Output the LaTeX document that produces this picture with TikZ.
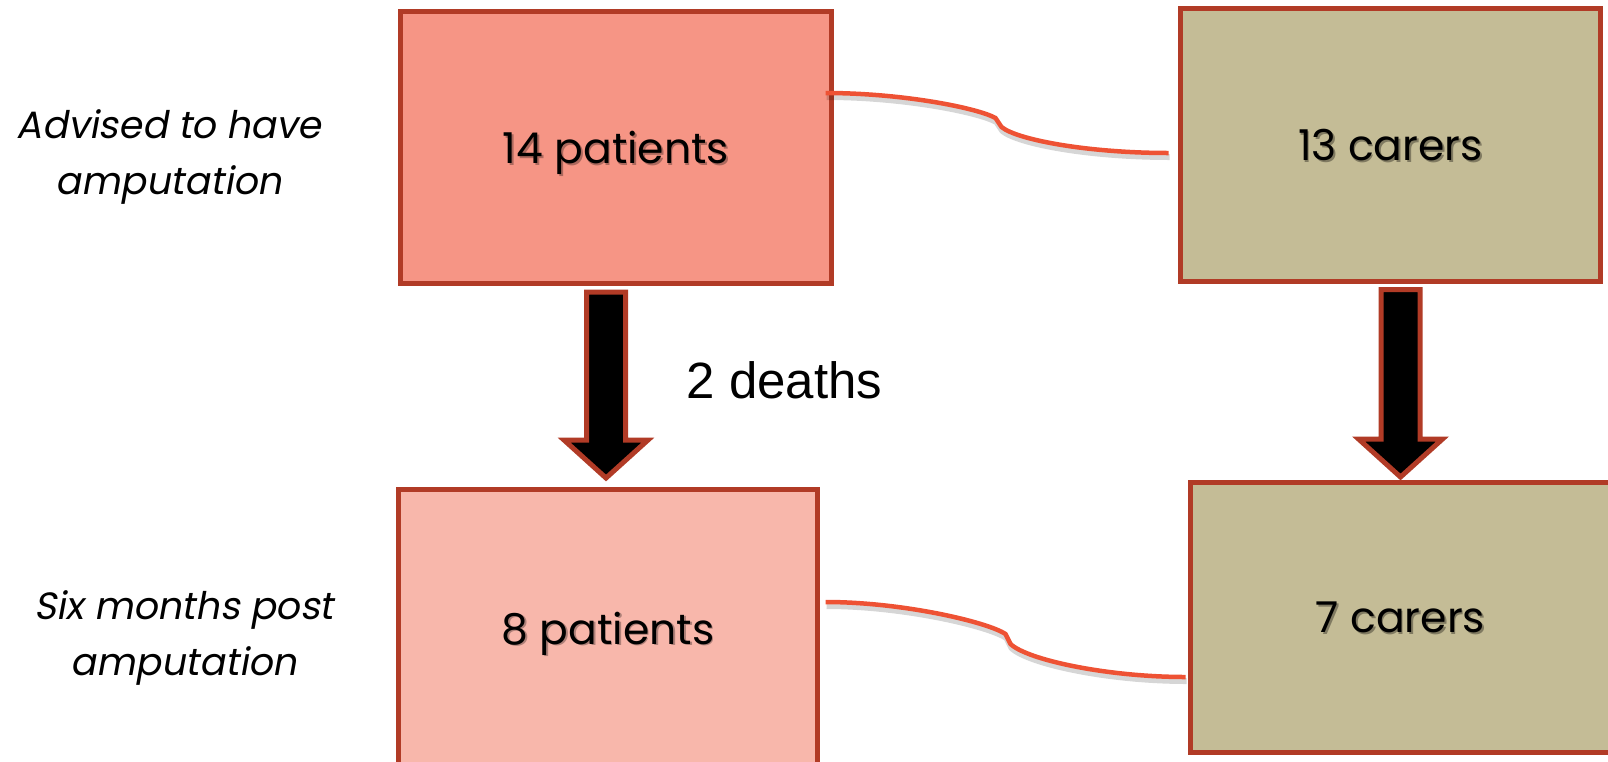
\documentclass[tikz,border=0pt]{standalone}
\usepackage{fontspec}
\usetikzlibrary{calc}
\newfontfamily\geofont{Poppins}
\newfontfamily\geoslant[FakeSlant=0.18]{Poppins}
\newfontfamily\arialfont{Liberation Sans}
\definecolor{edgered}{HTML}{B13B26}
\definecolor{linkred}{HTML}{EE5234}
\definecolor{patientfill}{HTML}{F69585}
\definecolor{patientlight}{HTML}{F8B7AB}
\definecolor{carerfill}{HTML}{C4BC96}
% text with a soft drop shadow underneath
\newcommand\shadowed[2]{\rlap{\kern1.6pt\raisebox{-1.6pt}{\textcolor{#1}{#2}}}#2}
% thick block arrow from a top point down to a tip point
\newcommand\blockarrowpath[2]{%
  \draw[blockarrow] ($(#1)+(-19.5,0)$) -- ($(#1)+(19.5,0)$)
    -- ($(#2)+(19.5,-38)$) -- ($(#2)+(42,-38)$) -- (#2)
    -- ($(#2)+(-42,-38)$) -- ($(#2)+(-19.5,-38)$) -- cycle;}
\begin{document}
\begin{tikzpicture}[x=1pt,y=-1pt,
  box/.style={draw=edgered,line width=5pt,inner sep=0pt,text depth=0pt,
    font=\geofont\fontsize{42.5}{50}\selectfont},
  link/.style={draw=linkred,line width=4.5pt,line join=round},
  linkshadow/.style={draw=black,opacity=0.16,line width=6pt,line join=round},
  blockarrow/.style={draw=edgered,fill=black,line width=5pt,line join=miter},
  sidelabel/.style={font=\geoslant\fontsize{38}{56}\selectfont,align=center}]

\useasboundingbox (0,0) rectangle (1608,761);
\clip (0,0) rectangle (1608,761);

% boxes
\node[box,fill=patientfill,minimum width=431pt,minimum height=272pt] (p14) at (616,147.5)
  {\shadowed{patientfill!70!black}{14 patients}};
\node[box,fill=carerfill,minimum width=420pt,minimum height=273pt] (p13) at (1390.5,145)
  {\shadowed{carerfill!65!black}{13 carers}};
\node[box,fill=patientlight,minimum width=419pt,minimum height=277pt] (p8) at (608,628)
  {\shadowed{patientlight!70!black}{8 patients}};
\node[box,fill=carerfill,minimum width=420pt,minimum height=270pt] (p7) at (1400.5,617.5)
  {\shadowed{carerfill!65!black}{7 carers}};

% side labels
\node[sidelabel] (advised) at (169,157) {Advised to have\\amputation};
\node[sidelabel] (sixmonths) at (184,638) {Six months post\\amputation};

% block arrows
\coordinate (a1top) at ($(p14.south -| p8.north)+(-2,6)$);
\coordinate (a1tip) at ($(p8.north)+(-2,-9)$);
\blockarrowpath{a1top}{a1tip}
\coordinate (a2top) at ($(p13.south -| p7.north)+(0,5.5)$);
\coordinate (a2tip) at ($(p7.north)+(0,-3)$);
\blockarrowpath{a2top}{a2tip}

\node[font=\arialfont\fontsize{51}{60}\selectfont,anchor=base west] (deaths) at (683,398) {2 deaths};

% curved links between patients and carers
\coordinate (l1a) at ($(p14.east)+(-8.5,-54.5)$);
\coordinate (l1b) at ($(l1a)+(170,25)$);
\coordinate (l1c) at ($(l1a)+(176,34)$);
\coordinate (l1z) at ($(p13.west)+(-9.5,8)$);
\def\linkone{(l1a) .. controls +(77,0) and +(-18,-10) .. (l1b) -- (l1c) .. controls +(16,13) and +(-80,0) .. (l1z)}

\coordinate (l2a) at ($(p8.east)+(5.5,-26)$);
\coordinate (l2b) at ($(l2a)+(180,32)$);
\coordinate (l2c) at ($(l2a)+(185,42)$);
\coordinate (l2z) at ($(p7.west)+(-2.5,59.5)$);
\def\linktwo{(l2a) .. controls +(77,0) and +(-18,-12) .. (l2b) -- (l2c) .. controls +(17,16) and +(-78,0) .. (l2z)}

\draw[linkshadow,transform canvas={xshift=1pt,yshift=-4pt}] \linkone;
\draw[linkshadow,transform canvas={xshift=1pt,yshift=-4pt}] \linktwo;
\draw[link] \linkone;
\draw[link] \linktwo;
\end{tikzpicture}
\end{document}
